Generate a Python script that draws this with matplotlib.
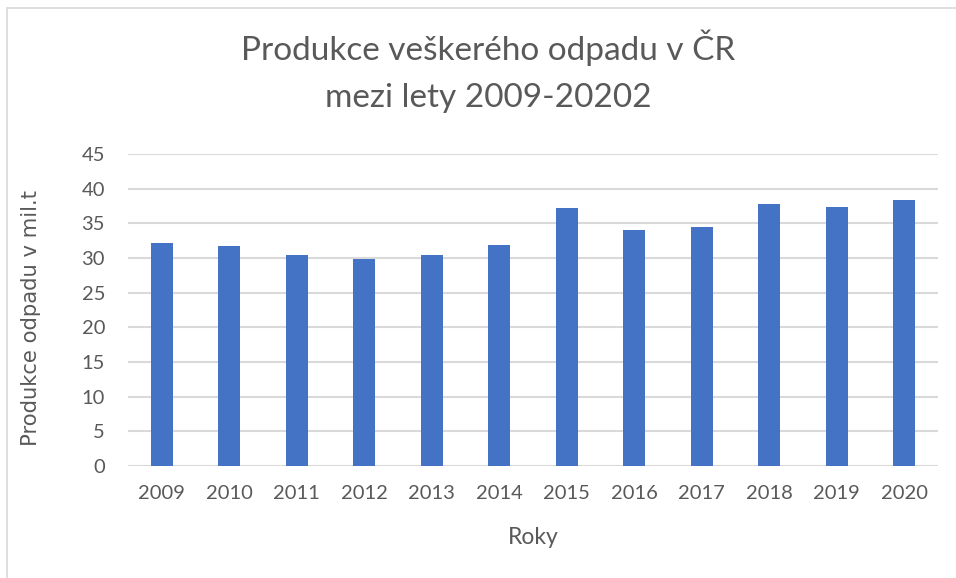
import matplotlib.pyplot as plt
from matplotlib.patches import Rectangle

# data
roky = ["2009", "2010", "2011", "2012", "2013", "2014",
        "2015", "2016", "2017", "2018", "2019", "2020"]
produkce = [32.2, 31.7, 30.5, 29.9, 30.5, 31.9,
            37.2, 34.1, 34.4, 37.8, 37.3, 38.4]
y_ticks = [0, 5, 10, 15, 20, 25, 30, 35, 40, 45]

plt.rcParams['font.family'] = ['Lato', 'DejaVu Sans']

fig = plt.figure(figsize=(9.56, 5.78), dpi=100)
W, H = 956, 578
ax = fig.add_axes([128 / W, 1 - 466 / H, 810 / W, 312 / H])

x = range(len(roky))
ax.bar(x, produkce, width=0.32, color='#4472C4', zorder=3)

ax.set_xlim(-0.5, len(roky) - 0.5)
ax.set_ylim(0, 45)
ax.set_yticks(y_ticks)
ax.set_xticks(list(x))
ax.set_xticklabels(roky)
ax.yaxis.grid(True, color='#d9d9d9', linewidth=1.5, zorder=0)
for s in ax.spines.values():
    s.set_visible(False)
ax.tick_params(axis='both', length=0, labelsize=14.5, colors='#595959')
ax.tick_params(axis='x', pad=14)
ax.tick_params(axis='y', pad=16.5)

fig.text(533 / W, 1 - 537 / H, "Roky", ha='center', va='center',
         fontsize=16.5, color='#595959')
fig.text(31 / W, 1 - 318 / H, "Produkce odpadu v mil.t", ha='center', va='center',
         rotation=90, fontsize=15.2, color='#595959', family=['DejaVu Sans'])

fig.text(488 / W, 1 - 48 / H, "Produkce veškerého odpadu v ČR", ha='center',
         va='center', fontsize=24, color='#595959')
fig.text(488 / W, 1 - 98 / H, "mezi lety 2009-20202", ha='center',
         va='center', fontsize=24, color='#595959')

# outer chart border
fig.patches.append(Rectangle((7 / W, -0.05), 1.2, 1 - 8 / H + 0.05,
                             transform=fig.transFigure, fill=False,
                             edgecolor='#d9d9d9', linewidth=1.2))

fig.savefig('out.png', dpi=100)
